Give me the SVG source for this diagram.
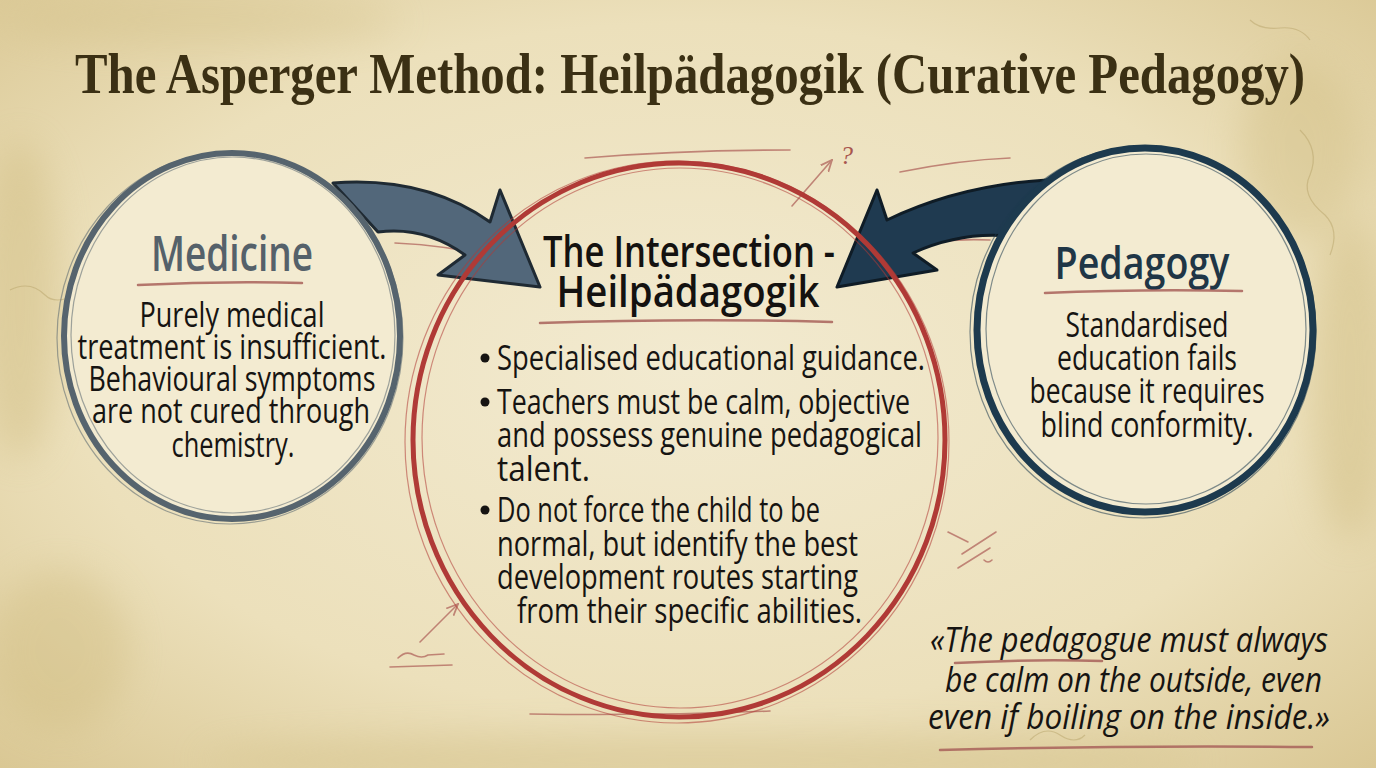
<svg xmlns="http://www.w3.org/2000/svg" width="1376" height="768" viewBox="0 0 1376 768">
<defs>
<radialGradient id="bg" cx="50%" cy="48%" r="75%">
<stop offset="0" stop-color="#f2ead0"/>
<stop offset="0.6" stop-color="#ece0bb"/>
<stop offset="1" stop-color="#d8c590"/>
</radialGradient>
<filter id="blur" x="-50%" y="-50%" width="200%" height="200%"><feGaussianBlur stdDeviation="18"/></filter>
<marker id="ah" viewBox="0 0 10 10" refX="9" refY="5" markerWidth="8" markerHeight="8" orient="auto"><path d="M0,1 L9,5 L0,9" fill="none" stroke="#b0645c" stroke-width="1.4"/></marker>
<style>
.body{font-family:"Open Sans","Noto Sans","Liberation Sans",sans-serif;font-size:34px;font-weight:500;fill:#161412;text-anchor:middle}
.bul{font-family:"Open Sans","Noto Sans","Liberation Sans",sans-serif;font-size:35px;font-weight:500;fill:#161412}
.head{font-family:"Open Sans","Noto Sans","Liberation Sans",sans-serif;font-weight:600;text-anchor:middle}
.quote{font-family:"Open Sans","Noto Sans","Liberation Sans",sans-serif;font-style:italic;font-weight:500;font-size:34px;fill:#161412}
.ul{fill:none;stroke:#a8625a;stroke-width:2.5;stroke-linecap:round;opacity:.85}
.sk{fill:none;stroke:#b0645c;stroke-width:1.6;stroke-linecap:round;opacity:.75}
.thin{fill:none;stroke-width:1.2;opacity:.55}
.crack{fill:none;stroke:#b8a36a;stroke-width:1.2;opacity:.5}
</style>
</defs>
<rect width="1376" height="768" fill="url(#bg)"/>
<g filter="url(#blur)" opacity="0.35">
<ellipse cx="20" cy="300" rx="40" ry="160" fill="#c8b271"/>
<ellipse cx="1350" cy="380" rx="40" ry="160" fill="#c8b271"/>
<ellipse cx="700" cy="760" rx="500" ry="25" fill="#cdb97c"/>
<ellipse cx="200" cy="20" rx="200" ry="25" fill="#d2bf86"/>
<ellipse cx="1300" cy="150" rx="60" ry="90" fill="#cdb97c"/>
<ellipse cx="60" cy="650" rx="70" ry="80" fill="#cdb97c"/>
</g>
<path class="crack" d="M1300,130 q20,20 10,45 q-10,20 15,40 q15,15 5,40"/>
<path class="crack" d="M1250,20 q10,10 30,8 q20,-2 30,12"/>
<path class="crack" d="M10,290 q20,-10 35,5 q10,10 30,0"/>
<path class="crack" d="M1030,740 q15,-15 30,-5 q15,10 25,0"/>

<text transform="translate(690,93) scale(0.82,1)" text-anchor="middle" textLength="1500" lengthAdjust="spacingAndGlyphs" font-family="'Liberation Serif','DejaVu Serif',serif" font-weight="bold" font-size="58" fill="#3b3014">The Asperger Method: Heilpädagogik (Curative Pedagogy)</text>

<g id="decor">
<path class="sk" d="M585,158 Q680,150 790,150"/>
<path class="sk" d="M792,206 L832,160" marker-end="url(#ah)"/>
<text x="840" y="164" font-family="'Liberation Serif',serif" font-style="italic" font-size="26" fill="#a8564e">?</text>
<path class="sk" d="M420,642 L458,604" marker-end="url(#ah)"/>
<path class="sk" d="M398,658 q8,-8 16,-3 q8,4 14,0 l16,-1"/>
<path class="sk" d="M390,667 L452,665"/>
<path class="sk" d="M948,532 L968,542"/>
<path class="sk" d="M962,554 L996,532"/>
<path class="sk" d="M958,568 L990,548"/>
<path class="sk" d="M984,560 q4,4 8,0"/>
<path class="sk" d="M530,714 Q650,716 770,711" opacity=".5"/>
<path class="sk" d="M395,243 Q460,246 510,262" opacity=".6"/>
<path class="sk" d="M900,172 Q960,160 1010,158" opacity=".6"/>
<path class="sk" d="M905,246 Q950,238 990,240" opacity=".5"/>
</g>

<g id="connectors">
<path d="M333,183 Q425,176 490,222 L500,190 L540,287 L438,275 L465,255 Q425,226 378,232 Z" fill="#52677a" stroke="#1f2a33" stroke-width="3" stroke-linejoin="round"/>
<path d="M1047,180 Q960,185 887,220 L877,190 L837,287 L937,270 L913,253 Q960,232 1008,236 Z" fill="#1f3a50" stroke="#0f1c26" stroke-width="3" stroke-linejoin="round"/>
</g>

<g id="medicine">
<ellipse cx="232" cy="336" rx="168" ry="183" fill="#f3ebd1" stroke="#56646e" stroke-width="6"/>
<ellipse class="thin" cx="233" cy="335" rx="162" ry="178" stroke="#56646e"/>
<ellipse class="thin" cx="230" cy="338" rx="173" ry="186" stroke="#56646e" opacity=".35"/>
<text class="head" x="232" y="271" font-size="48" fill="#55616a" textLength="162" lengthAdjust="spacingAndGlyphs">Medicine</text>
<path class="ul" d="M138,285 Q220,281 302,283"/>
<text class="body" x="232" y="327" textLength="185" lengthAdjust="spacingAndGlyphs">Purely medical</text>
<text class="body" x="232" y="359" textLength="309" lengthAdjust="spacingAndGlyphs">treatment is insufficient.</text>
<text class="body" x="232" y="391" textLength="287" lengthAdjust="spacingAndGlyphs">Behavioural symptoms</text>
<text class="body" x="231" y="423" textLength="278" lengthAdjust="spacingAndGlyphs">are not cured through</text>
<text class="body" x="233" y="457" textLength="123" lengthAdjust="spacingAndGlyphs">chemistry.</text>
</g>

<g id="intersection">
<ellipse cx="679" cy="440" rx="266" ry="277" fill="none" stroke="#b03a36" stroke-width="5"/>
<ellipse class="thin" cx="680" cy="438" rx="258" ry="270" stroke="#b03a36"/>
<ellipse class="thin" cx="677" cy="442" rx="272" ry="281" stroke="#b03a36" opacity=".35"/>
<text class="head" x="689" y="267" font-size="44" font-weight="700" fill="#141210" textLength="292" lengthAdjust="spacingAndGlyphs">The Intersection -</text>
<text class="head" x="688" y="307" font-size="44" font-weight="700" fill="#141210" textLength="263" lengthAdjust="spacingAndGlyphs">Heilpädagogik</text>
<path class="ul" d="M540,323 Q690,318 832,322"/>
<circle cx="485" cy="358" r="4.5" fill="#161412"/>
<circle cx="485" cy="402" r="4.5" fill="#161412"/>
<circle cx="485" cy="510" r="4.5" fill="#161412"/>
<text class="bul" x="497" y="370" textLength="428" lengthAdjust="spacingAndGlyphs">Specialised educational guidance.</text>
<text class="bul" x="497" y="414" textLength="413" lengthAdjust="spacingAndGlyphs">Teachers must be calm, objective</text>
<text class="bul" x="497" y="447" textLength="425" lengthAdjust="spacingAndGlyphs">and possess genuine pedagogical</text>
<text class="bul" x="497" y="481" textLength="93" lengthAdjust="spacingAndGlyphs">talent.</text>
<text class="bul" x="497" y="522" textLength="323" lengthAdjust="spacingAndGlyphs">Do not force the child to be</text>
<text class="bul" x="497" y="556" textLength="361" lengthAdjust="spacingAndGlyphs">normal, but identify the best</text>
<text class="bul" x="497" y="589" textLength="361" lengthAdjust="spacingAndGlyphs">development routes starting</text>
<text class="bul" x="517" y="623" textLength="345" lengthAdjust="spacingAndGlyphs">from their specific abilities.</text>
</g>

<g id="pedagogy">
<ellipse cx="1145" cy="330" rx="168" ry="182" fill="#f3ebd1" stroke="#1d3a4e" stroke-width="7"/>
<ellipse class="thin" cx="1146" cy="329" rx="160" ry="175" stroke="#1d3a4e"/>
<ellipse class="thin" cx="1143" cy="332" rx="173" ry="186" stroke="#1d3a4e" opacity=".35"/>
<text class="head" x="1142" y="279" font-size="46" fill="#1f3646" textLength="175" lengthAdjust="spacingAndGlyphs">Pedagogy</text>
<path class="ul" d="M1045,293 Q1140,289 1242,291"/>
<text class="body" x="1147" y="337" textLength="163" lengthAdjust="spacingAndGlyphs">Standardised</text>
<text class="body" x="1147" y="370" textLength="180" lengthAdjust="spacingAndGlyphs">education fails</text>
<text class="body" x="1147" y="403" textLength="235" lengthAdjust="spacingAndGlyphs">because it requires</text>
<text class="body" x="1147" y="437" textLength="213" lengthAdjust="spacingAndGlyphs">blind conformity.</text>
</g>

<g id="quote">
<text class="quote" x="930" y="652" textLength="398" lengthAdjust="spacingAndGlyphs">«The pedagogue must always</text>
<text class="quote" x="945" y="692" textLength="377" lengthAdjust="spacingAndGlyphs">be calm on the outside, even</text>
<text class="quote" x="928" y="729" textLength="402" lengthAdjust="spacingAndGlyphs">even if boiling on the inside.»</text>
<path class="ul" d="M955,663 Q1030,659 1102,661"/>
<path class="ul" d="M940,750 Q1130,745 1312,747"/>
</g>
</svg>
